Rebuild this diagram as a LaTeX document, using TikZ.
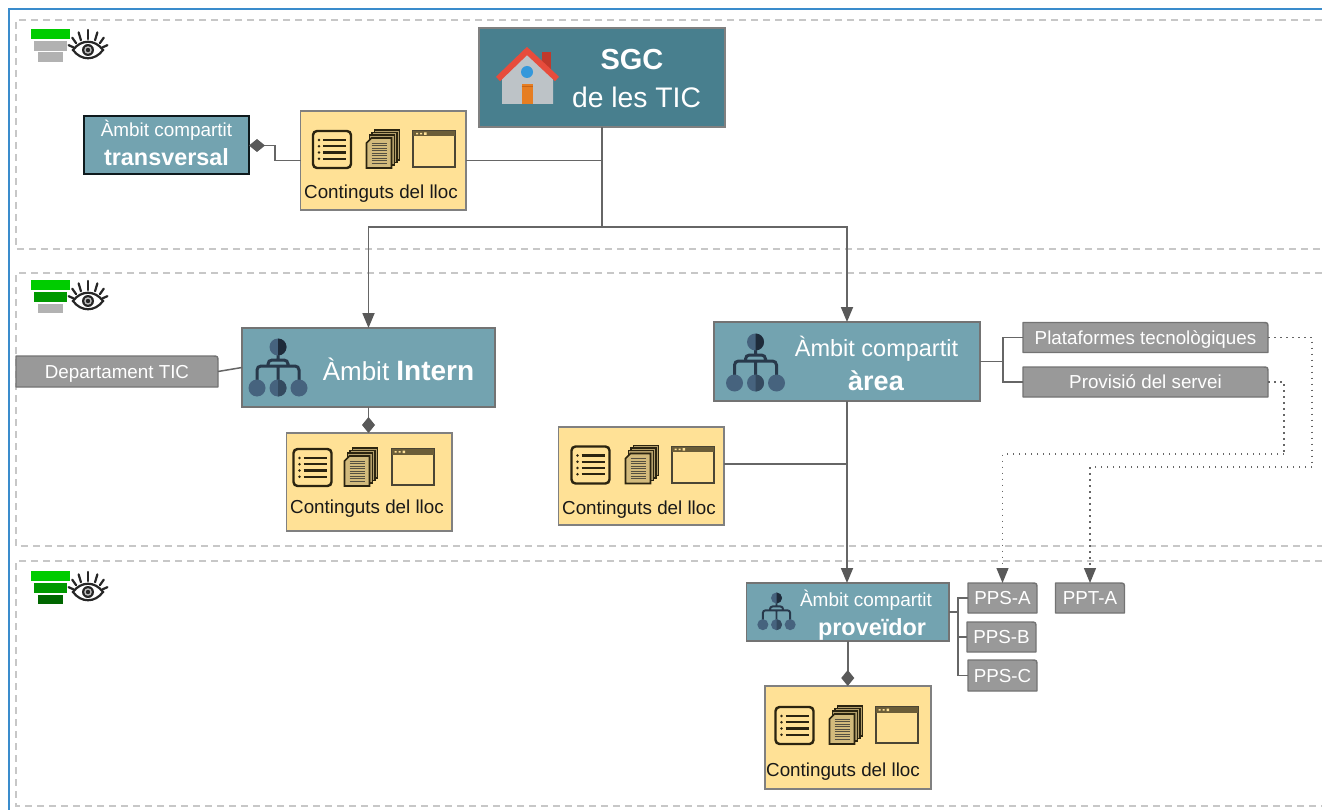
\documentclass[tikz,border=0pt]{standalone}
\usepackage{fontspec}
\setmainfont{Liberation Sans}
\usetikzlibrary{arrows.meta}
\definecolor{boxteal}{HTML}{73A3B0}
\definecolor{boxdark}{HTML}{487F8E}
\definecolor{tabgray}{HTML}{999999}
\definecolor{contyel}{HTML}{FFE196}
\definecolor{edge}{HTML}{666666}
\definecolor{icondk}{HTML}{2B2410}
\definecolor{orgblue}{HTML}{46637E}
\definecolor{orgdark}{HTML}{1E2B3A}
\newcommand{\fs}[1]{\fontsize{#1pt}{#1pt}\selectfont}
\tikzset{
  x=1pt,y=-1pt,
  region/.style={draw=black!22,line width=1.5pt,dash pattern=on 7pt off 5pt},
  basebox/.style={inner sep=0pt,outer sep=0pt,rectangle},
  tealbox/.style={basebox,draw=black!55,line width=1.4pt,fill=boxteal},
  darkteal/.style={basebox,draw=black!50,line width=1.4pt,fill=boxdark},
  transbox/.style={basebox,draw=black!80!boxdark,line width=2pt,fill=boxteal},
  contbox/.style={basebox,draw=black!50,line width=1.4pt,fill=contyel},
  whitetxt/.style={text=white,inner sep=0pt},
  conttxt/.style={text=black!90,inner sep=0pt,font=\fs{18.8}},
  tabtxt/.style={basebox,text=white,font=\fs{18.8},text height=13.5pt,text depth=0pt},
  conn/.style={draw=edge,line width=1.8pt},
  thinconn/.style={draw=edge,line width=1.5pt},
  dotconn/.style={draw=edge,line width=1.3pt,dash pattern=on 1.5pt off 4.5pt},
  tri/.style={-{Triangle[length=15pt,width=12pt,color=black!65]}},
  dia/.style={-{Diamond[length=16pt,width=13pt,color=black!65]}},
}
\newcommand{\bx}[6]{\node[#6,minimum width={(#4-#2)*1pt},minimum height={(#5-#3)*1pt}] (#1) at ({(#2+#4)/2},{(#3+#5)/2}) {};}
% tab: top-right rounded grey label
\newcommand{\tabbox}[5]{%
  \path[fill=tabgray,draw=black!55,line width=1.4pt,line join=round] (#2,#3) -- (#4-6,#3) .. controls (#4,#3) .. (#4,#3+6) -- (#4,#5) -- (#2,#5) -- cycle;
  \node[tabtxt,minimum width={(#4-#2)*1pt},minimum height={(#5-#3)*1pt}] (#1) at ({(#2+#4)/2},{(#3+#5)/2}) {\TT};}
\newcommand{\conticons}[4]{%
\begin{scope}[shift={(#1,#2)}]
  % list
  \draw[icondk,line width=2.4pt,rounded corners=4pt] (0,0) rectangle (38,37);
  \foreach \yy in {9,15.2,21.5,27.7}{
    \fill[icondk] (6,\yy) circle (1.4);
    \draw[icondk,line width=2.2pt] (10,\yy) -- (33,\yy);}
\end{scope}
\begin{scope}[shift={(#1+#3,#2)}]
  % documents
  \foreach \dd in {8,5.5,3}{
    \draw[icondk,line width=1.2pt,fill=contyel!55!black!65!contyel] (0+\dd,7-\dd) rectangle (25+\dd,37-\dd);}
  \draw[icondk,line width=1.6pt,fill=contyel!75!black!70!contyel] (5,7) -- (25,7) -- (25,37) -- (0,37) -- (0,12) -- cycle;
  \foreach \yy in {12,14.5,...,32}{\draw[icondk!80,line width=.8pt] (5,\yy) -- (20,\yy);}
\end{scope}
\begin{scope}[shift={(#1+#4,#2)}]
  % window
  \draw[icondk!85,line width=2pt] (0,0) rectangle (42,36);
  \fill[icondk!70!contyel] (0,0) rectangle (42,5.5);
  \fill[contyel] (3,2) rectangle (5,3.5) (7,2) rectangle (9,3.5) (11,1.5) rectangle (13.5,4);
\end{scope}}
\newcommand{\orgicon}[3]{%
\begin{scope}[shift={(#1,#2)},scale=#3]
  \draw[orgdark!75!orgblue,line width=#3*3pt,rounded corners=#3*4pt]
    (0,0) -- (0,13) (-10,19) -- (-10,13) -- (10,13) -- (10,19)
    (0,19) -- (0,36) (-21,36) -- (-21,19) -- (21,19) -- (21,36);
  \fill[orgblue] (0,0) circle (8.5);
  \fill[orgdark] (0,-8.5) arc[start angle=-90,end angle=90,radius=8.5] -- cycle;
  \fill[orgblue] (-21,41) circle (8.5) (0,41) circle (8.5) (21,41) circle (8.5);
  \fill[orgdark!45!orgblue] (0,32.5) arc[start angle=-90,end angle=90,radius=8.5] -- cycle;
\end{scope}}
\newcommand{\levelicon}[5]{%
\begin{scope}[shift={(#1,#2)}]
  \fill[#3] (0,0) rectangle (39,10);
  \fill[#4] (3,12) rectangle (36,22);
  \fill[#5] (7,23.5) rectangle (32,33);
  \begin{scope}[shift={(57,21)}]
    \draw[black!85,line width=2.2pt,fill=white] (-15,0) .. controls (-7,-11) and (7,-11) .. (15,0) .. controls (7,11) and (-7,11) .. (-15,0) -- cycle;
    \fill[black!85] (0,0) circle (6);
    \fill[black!25] (0,0) circle (3.8);
    \fill[black!85] (0,0) circle (2.2);
    \foreach \a in {90,62,38,14,118,142,166}{
      \draw[black!85,line width=2.2pt,line cap=round] ({15*cos(\a)},{-11*sin(\a)}) -- ({20*cos(\a)},{-20*sin(\a)});}
  \end{scope}
\end{scope}}
\begin{document}
\begin{tikzpicture}
\useasboundingbox (0,0) rectangle (1322,810);
\fill[white] (0,0) rectangle (1322,810);
% outer frame and level regions
\draw[color={rgb,255:red,58;green,140;blue,204},line width=2pt] (8.5,810) -- (8.5,9.5) -- (1322,9.5);
\draw[region] (1322,20) -- (16,20) -- (16,249) -- (1322,249);
\draw[region] (1322,273) -- (16,273) -- (16,546) -- (1322,546);
\draw[region] (1322,561) -- (16,561) -- (16,806) -- (1322,806);
\levelicon{31}{29}{green!80!black}{black!30}{black!30}
\levelicon{31}{280}{green!80!black}{green!60!black}{black!30}
\levelicon{31}{571}{green!80!black}{green!60!black}{green!40!black}

% main boxes
\bx{sgc}{479}{28}{725}{127}{darkteal}
\bx{trans}{83.5}{116.5}{249}{174.5}{transbox}
\bx{c1}{300.5}{111}{466}{210}{contbox}
\bx{intern}{242}{328}{495}{407}{tealbox}
\bx{c2}{286.5}{433}{452}{531}{contbox}
\bx{area}{714}{322}{980}{401}{tealbox}
\bx{c3}{558.5}{427}{724}{525}{contbox}
\bx{prov}{746.5}{583}{949}{641}{tealbox}
\bx{c4}{765}{686}{931}{789}{contbox}

% grey tabs
\def\TT{Departament TIC}\tabbox{dep}{16}{356}{218}{387}
\def\TT{Plataformes tecnològiques}\tabbox{plat}{1023}{322.5}{1268}{352.5}
\def\TT{Provisió del servei}\tabbox{provis}{1023}{367}{1268}{397}
\def\TT{PPS-A}\tabbox{ppsa}{968}{583}{1037}{613}
\def\TT{PPS-B}\tabbox{ppsb}{967}{622}{1036}{652}
\def\TT{PPS-C}\tabbox{ppsc}{968}{660}{1037}{691}
\def\TT{PPT-A}\tabbox{ppta}{1055.5}{583}{1124.5}{613}

% junction points
\coordinate (j0) at (602,227);
\coordinate (j1) at (275,145.5);
\coordinate (j2) at (847,464);
\coordinate (j3) at (1003,361.5);
\coordinate (j4) at (958,612);
\coordinate (d1) at (1312,467);
\coordinate (d2) at (1284,454);

% connectors
\draw[conn] (sgc.south) -- (j0);
\draw[conn] (c1.east) -- (c1.east -| sgc.south);
\draw[conn,tri] (j0) -| (intern.north);
\draw[conn,tri] (j0) -| (area.north);
\draw[conn,dia] (c1.west) -| (j1) -- (trans.east);
\draw[conn,dia] (intern.south) -- (intern.south |- c2.north);
\draw[thinconn] (dep.east) -- (intern.west);
\draw[conn,tri] (area.south) -- (area.south |- prov.north);
\draw[conn] (c3.east |- j2) -- (j2);
\draw[thinconn] (area.east) -- (j3);
\draw[thinconn] (plat.west) -| (j3) |- (provis.west);
\draw[thinconn] (prov.east) -- (j4);
\draw[thinconn] (ppsa.west) -| (j4) |- (ppsc.west);
\draw[thinconn] (j4) |- (ppsb.west);
\draw[conn,dia] (prov.south) -- (prov.south |- c4.north);
\draw[dotconn] (plat.east) -| (d1);
\draw[dotconn,tri] (d1) -| (ppta.north);
\draw[dotconn] (provis.east) -| (d2);
\draw[dotconn,tri] (d2) -| (ppsa.north);

% house icon
\fill[color={rgb,255:red,192;green,57;blue,43}] (542,52) rectangle (551,70);
\fill[color={rgb,255:red,189;green,195;blue,199}] (502,78) -- (527,53) -- (553,78) -- (553,104) -- (502,104) -- cycle;
\draw[color={rgb,255:red,231;green,76;blue,60},line width=6pt,line join=miter] (498,79) -- (527,51) -- (557,79);
\fill[color={rgb,255:red,52;green,152;blue,219}] (527,72) circle (6);
\fill[color={rgb,255:red,230;green,126;blue,34}] (521.5,84) rectangle (533,104);
\draw[color={rgb,255:red,200;green,100;blue,20},line width=.8pt] (521.5,86) -- (533,86);

% org icons
\orgicon{278}{347}{1}
\orgicon{755.5}{342}{1}
\orgicon{776.5}{598}{.65}

% content icons
\conticons{313}{131}{53.5}{100}
\conticons{293.5}{449}{51}{98}
\conticons{571.5}{446.5}{54}{100}
\conticons{775.5}{707}{54}{100}

% labels
\node[whitetxt,font=\fs{29}\bfseries] (t1) at (632,60) {SGC};
\node[whitetxt,font=\fs{28.3}] (t2) at (636.5,97) {de les TIC};
\node[whitetxt,font=\fs{18.9}] (t3) at (166.5,130) {Àmbit compartit};
\node[whitetxt,font=\fs{23.4}\bfseries] (t4) at (166.5,157) {transversal};
\node[whitetxt,font=\fs{26}] (t5) at (398.5,369) {Àmbit \fs{28}\bfseries Intern};
\node[whitetxt,font=\fs{23.5}] (t6) at (876.5,349) {Àmbit compartit};
\node[whitetxt,font=\fs{27}\bfseries] (t7) at (876,381) {àrea};
\node[whitetxt,font=\fs{19}] (t8) at (866,600) {Àmbit compartit};
\node[whitetxt,font=\fs{23.4}\bfseries] (t9) at (872,629) {proveïdor};
\node[conttxt] (l1) at (381,193.5) {Continguts del lloc};
\node[conttxt] (l2) at (367,508.5) {Continguts del lloc};
\node[conttxt] (l3) at (639,509.5) {Continguts del lloc};
\node[conttxt] (l4) at (843,771.5) {Continguts del lloc};
\end{tikzpicture}
\end{document}
